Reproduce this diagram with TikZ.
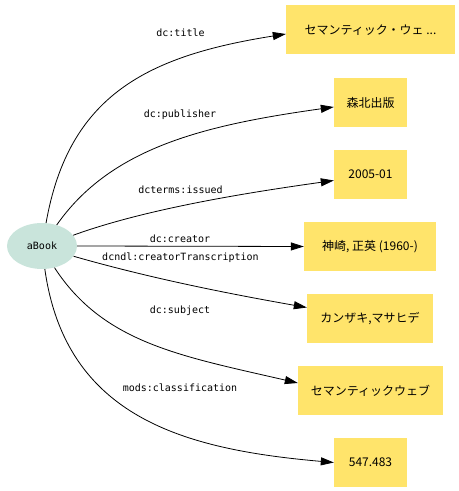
\documentclass[tikz,border=0pt]{standalone}
\usepackage{fontspec}
\setmonofont{DejaVu Sans Mono}
\newfontfamily\jpfont{Noto Sans CJK JP}
\usetikzlibrary{arrows.meta,shapes.geometric}
\definecolor{boxyellow}{HTML}{FFE46B}
\definecolor{ellgreen}{HTML}{C9E4DB}
\begin{document}
\begin{tikzpicture}[x=1bp,y=1bp,
  lit/.style={fill=boxyellow, minimum height=49bp, inner sep=0pt,
    font=\jpfont\fontsize{12bp}{14bp}\selectfont},
  res/.style={ellipse, fill=ellgreen, minimum width=70bp, minimum height=46bp,
    inner sep=0pt, font=\ttfamily\fontsize{10bp}{12bp}\selectfont},
  prop/.style={inner sep=0pt, font=\ttfamily\fontsize{10bp}{12bp}\selectfont},
  rel/.style={-{Triangle[length=13bp,width=8bp]}, line width=0.8bp, black}]
\useasboundingbox (0,0) rectangle (459,491);
\node[res] (a) at (42,245) {aBook};
\node[lit, minimum width=169bp] (b1) at (370.5,461) {セマンティック・ウェ ...};
\node[lit, minimum width=73bp]  (b2) at (370.5,388.5) {森北出版};
\node[lit, minimum width=73bp]  (b3) at (370.5,316.5) {2005-01};
\node[lit, minimum width=132bp] (b4) at (370,244.5) {神崎, 正英 (1960-)};
\node[lit, minimum width=126bp] (b5) at (370,172.5) {カンザキ,マサヒデ};
\node[lit, minimum width=145bp] (b6) at (370.5,100.5) {セマンティックウェブ};
\node[lit, minimum width=73bp]  (b7) at (370.5,28.5) {547.483};
\node[prop] (l1) at (180.5,458) {dc:title};
\node[prop] (l2) at (180,376) {dc:publisher};
\node[prop] (l3) at (180.5,301) {dcterms:issued};
\node[prop] (l4) at (180,252) {dc:creator};
\node[prop] (l5) at (180.5,233) {dcndl:creatorTranscription};
\node[prop] (l6) at (180,180) {dc:subject};
\node[prop] (l7) at (180,103) {mods:classification};
\draw[rel] (a.80) .. controls +(80:130) and +(189:140) .. ([yshift=-4bp]b1.west);
\draw[rel] (a.55) .. controls +(55:95) and +(188:130) .. ([yshift=-4.5bp]b2.west);
\draw[rel] (a.19) .. controls +(20:80) and +(188:80) .. ([yshift=-6bp]b3.west);
\draw[rel] (a.east) -- (b4.west);
\draw[rel] (a.-18) .. controls +(-16:80) and +(170:80) .. ([yshift=11bp]b5.west);
\draw[rel] (a.-60) .. controls +(-57:90) and +(167:120) .. ([yshift=7.5bp]b6.west);
\draw[rel] (a.-83) .. controls +(-82:150) and +(175:150) .. (b7.west);
\end{tikzpicture}
\end{document}
